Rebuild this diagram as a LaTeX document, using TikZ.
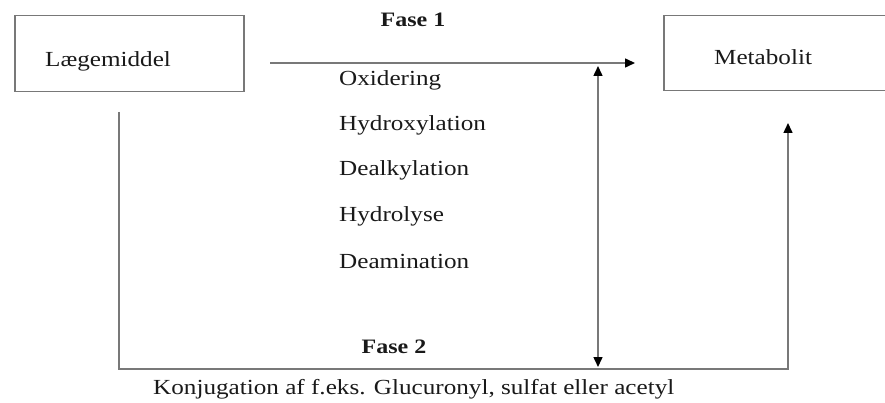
\documentclass[tikz,border=0pt]{standalone}
\usepackage{fontspec}
\setmainfont{Liberation Serif}[FakeStretch=1.17]
\usetikzlibrary{arrows.meta}
\definecolor{linegray}{RGB}{120,120,120}
\definecolor{txt}{RGB}{25,25,25}
\tikzset{
  box/.style={draw=linegray, line width=1.5pt, inner sep=0pt},
  lbl/.style={anchor=base west, inner sep=0pt, text=txt, font=\fontsize{21.5}{24}\selectfont},
  hdr/.style={anchor=base, inner sep=0pt, text=txt, font=\fontsize{20.5}{24}\selectfont\bfseries},
  conn/.style={draw=linegray, line width=1.5pt},
  arrtip/.tip={Triangle[length=10pt,width=9pt,color=black]},
  tip/.style={-arrtip},
}
\begin{document}
\begin{tikzpicture}[x=1pt,y=-1pt]
\useasboundingbox (0,0) rectangle (885,403);
\begin{scope}
\clip (0,0) rectangle (885,403);
\node[box, minimum width=229pt, minimum height=76pt, anchor=north west] (lm) at (14,15) {};
\node[box, minimum width=320pt, minimum height=75pt, anchor=north west] (met) at (663,15) {};
\end{scope}
\node[lbl] (lmt) at (45,67) {Lægemiddel};
\node[lbl] (mett) at (714,65) {Metabolit};
\node[hdr] (f1) at (413,27) {Fase 1};
\node[lbl] (o1) at (339,86) {Oxidering};
\node[lbl] (o2) at (339,131) {Hydroxylation};
\node[lbl] (o3) at (339,176) {Dealkylation};
\node[lbl] (o4) at (339,222) {Hydrolyse};
\node[lbl] (o5) at (339,268) {Deamination};
\node[hdr] (f2) at (394,353) {Fase 2};
\node[lbl] (konj) at (153,394) {Konjugation af f.eks. Glucuronyl, sulfat eller acetyl};
% coordinates
\coordinate (a1s) at (270,63);
\coordinate (a1e) at (635,63);
\coordinate (vt) at (598,66);
\coordinate (vb) at (598,367);
\coordinate (ls) at (119,112);
\coordinate (bl) at (119,369);
\coordinate (br) at (788,369);
\coordinate (re) at (788,123);
\draw[conn, tip] (a1s) -- (a1e);
\draw[conn, arrtip-arrtip] (vt) -- (vb);
\draw[conn, tip] (ls) -- (bl) -- (br) -- (re);
\end{tikzpicture}
\end{document}
